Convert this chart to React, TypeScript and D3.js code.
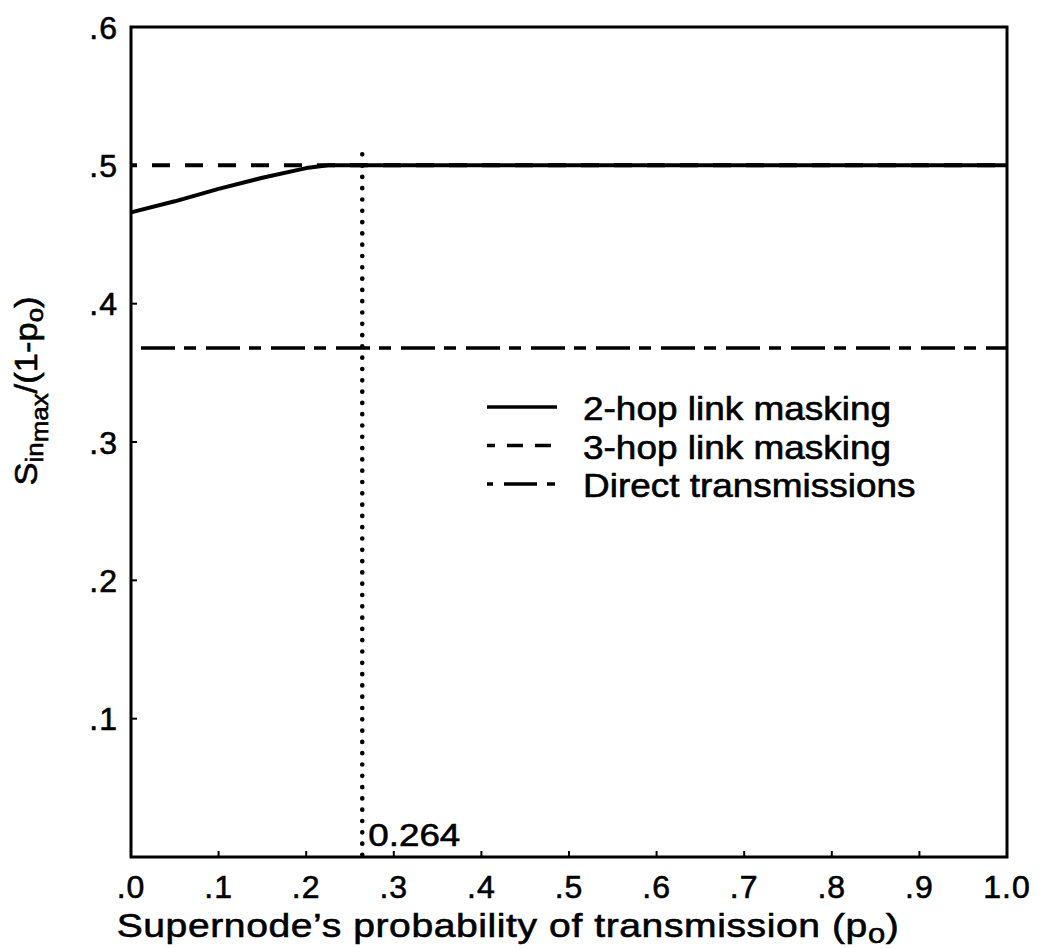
import React from "react";
import * as d3 from "d3";

const xTickValues = [0, 0.1, 0.2, 0.3, 0.4, 0.5, 0.6, 0.7, 0.8, 0.9, 1.0];
const xTickLabels = [".0", ".1", ".2", ".3", ".4", ".5", ".6", ".7", ".8", ".9", "1.0"];
const yTickValues = [0.1, 0.2, 0.3, 0.4, 0.5, 0.6];
const yTickLabels = [".1", ".2", ".3", ".4", ".5", ".6"];

// 2-hop link masking
const twoHopP = [0, 0.05, 0.1, 0.15, 0.2, 0.225, 0.264, 1.0];
const twoHopS = [0.466, 0.474, 0.483, 0.491, 0.498, 0.5, 0.5, 0.5];
// 3-hop link masking
const threeHopP = [0, 1.0];
const threeHopS = [0.5, 0.5];
// Direct transmissions (1/e)
const directP = [0, 1.0];
const directS = [0.368, 0.368];
// threshold
const thresholdP = 0.264;
const thresholdTop = 0.508;
const thresholdLabel = "0.264";

const legendLabels = ["2-hop link masking", "3-hop link masking", "Direct transmissions"];

const FONT = "'Liberation Sans', Arial, Helvetica, sans-serif";
const SX = 1.15;

export default function App() {
  const W = 1039, H = 949;
  const x = d3.scaleLinear().domain([0, 1]).range([131, 1007]);
  const y = d3.scaleLinear().domain([0, 0.6]).range([857, 27]);
  const line = d3.line<[number, number]>().x(d => x(d[0])).y(d => y(d[1]));
  const pts = (ps: number[], vs: number[]) => ps.map((p, i) => [p, vs[i]] as [number, number]);

  const legendStyles = [
    { dash: undefined, offset: 0 },
    { dash: "16 12", offset: 8 },
    { dash: "6 11 33 10 8 100", offset: 0 },
  ];

  const ts = { stroke: "#000", strokeWidth: 0.6 } as const;

  return (
    <svg width={W} height={H} style={{ position: "absolute", left: 0, top: 0, background: "#fff" }} fontFamily={FONT}>
      <rect x={0} y={0} width={W} height={H} fill="#fff" />
      {/* frame */}
      <rect x={x(0)} y={y(0.6)} width={x(1) - x(0)} height={y(0) - y(0.6)} fill="none" stroke="#000" strokeWidth={3} />
      {/* inward ticks */}
      {xTickValues.slice(1, -1).map((v, i) => (
        <line key={"xt" + i} x1={x(v)} x2={x(v)} y1={y(0)} y2={y(0) - 6} stroke="#000" strokeWidth={2} />
      ))}
      {yTickValues.slice(0, -1).map((v, i) => (
        <line key={"yt" + i} x1={x(0)} x2={x(0) + 6} y1={y(v)} y2={y(v)} stroke="#000" strokeWidth={2} />
      ))}
      {/* tick labels */}
      {xTickValues.map((v, i) => (
        <text key={"xl" + i} x={x(v)} y={898} fontSize={32} textAnchor="middle" letterSpacing={1} {...ts}>{xTickLabels[i]}</text>
      ))}
      {yTickValues.map((v, i) => (
        <text key={"yl" + i} x={118} y={y(v) + 11.5} fontSize={32} textAnchor="end" letterSpacing={1} {...ts}>{yTickLabels[i]}</text>
      ))}
      {/* series */}
      <path d={line(pts(directP, directS)) || ""} fill="none" stroke="#000" strokeWidth={3.5} strokeDasharray="34 9 12 10" strokeDashoffset={55} />
      <path d={line(pts(threeHopP, threeHopS)) || ""} fill="none" stroke="#000" strokeWidth={4} strokeDasharray="18 15" strokeDashoffset={12} />
      <path d={line(pts(twoHopP, twoHopS)) || ""} fill="none" stroke="#000" strokeWidth={4} strokeLinejoin="round" />
      {/* threshold dotted line */}
      <line x1={x(thresholdP)} x2={x(thresholdP)} y1={y(thresholdTop)} y2={y(0) - 2} stroke="#000" strokeWidth={4.6} strokeLinecap="round" strokeDasharray="0.1 11.2" />
      <text transform={`translate(${x(thresholdP) + 6},846) scale(${SX},1)`} fontSize={32} {...ts}>{thresholdLabel}</text>
      {/* legend */}
      {legendLabels.map((lab, i) => {
        const ly = 407 + i * 38.5;
        const st = legendStyles[i];
        return (
          <g key={"lg" + i}>
            <line x1={487} x2={557} y1={ly} y2={ly} stroke="#000" strokeWidth={3.5} strokeDasharray={st.dash} strokeDashoffset={st.offset} />
            <text transform={`translate(583,${ly + 13}) scale(1.12,1)`} fontSize={33} {...ts}>{lab}</text>
          </g>
        );
      })}
      {/* x axis title */}
      <text transform={`translate(508,937) scale(${SX},1)`} fontSize={34} textAnchor="middle" letterSpacing={0.5} {...ts}>
        <tspan>Supernode’s probability of transmission (p</tspan>
        <tspan fontSize={27} dy={6}>o</tspan>
        <tspan dy={-6}>)</tspan>
      </text>
      {/* y axis title */}
      <text transform={`translate(37,391) rotate(-90) scale(1.08,1)`} fontSize={32} textAnchor="middle" {...ts}>
        <tspan>S</tspan>
        <tspan fontSize={24} dy={6}>in</tspan>
        <tspan fontSize={24} dy={5}>max</tspan>
        <tspan dy={-11}>/(1-p</tspan>
        <tspan fontSize={24} dy={6}>o</tspan>
        <tspan dy={-6}>)</tspan>
      </text>
    </svg>
  );
}
